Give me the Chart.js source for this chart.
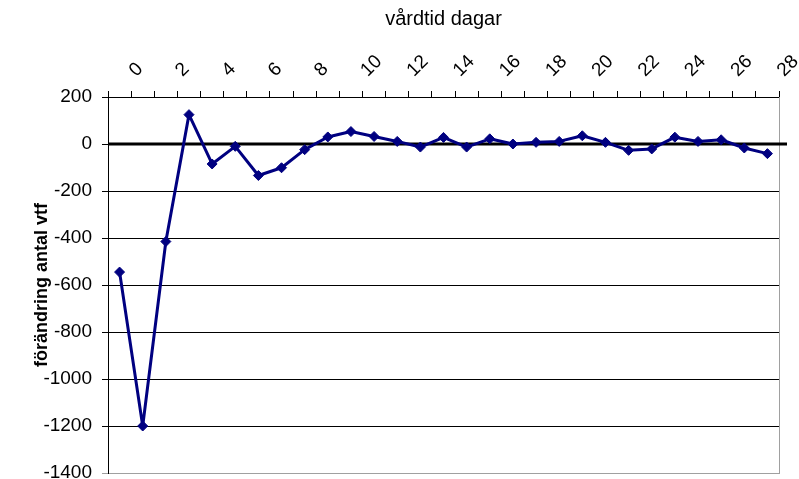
<!DOCTYPE html>
<html><head><meta charset="utf-8">
<script src="https://cdn.jsdelivr.net/npm/chart.js@4/dist/chart.umd.min.js"></script>
<style>html,body{margin:0;padding:0;background:#fff;} #wrap{width:799px;height:479px;}</style>
</head><body><div id="wrap"><canvas id="c" width="799" height="479"></canvas></div>
<script>
// data
const days = [-0.5, 0.5, 1.5, 2.5, 3.5, 4.5, 5.5, 6.5, 7.5, 8.5, 9.5, 10.5, 11.5, 12.5, 13.5, 14.5, 15.5, 16.5, 17.5, 18.5, 19.5, 20.5, 21.5, 22.5, 23.5, 24.5, 25.5, 26.5, 27.5];
const change = [-545, -1200, -415, 125, -85, -10, -134, -101, -24, 30, 53, 32, 11, -13, 28, -13, 22, 0, 7, 11, 35, 7, -27, -21, 29, 11, 18, -17, -41];
const xTickLabels = [0, 2, 4, 6, 8, 10, 12, 14, 16, 18, 20, 22, 24, 26, 28];
const yTicks = [200, 0, -200, -400, -600, -800, -1000, -1200, -1400];
const xTitle = 'vårdtid dagar';
const yTitle = 'förändring antal vtf';

const FONT = "'Liberation Sans', Arial, sans-serif";
Chart.defaults.font.family = FONT;
Chart.defaults.color = '#000';

const framePlugin = {
  id: 'frame',
  beforeDatasetsDraw(chart) {
    const {ctx, chartArea: a, scales} = chart;
    const y0 = scales.y.getPixelForValue(0);
    ctx.save();
    ctx.strokeStyle = '#a0a0a0';
    ctx.lineWidth = 1;
    ctx.beginPath();
    ctx.moveTo(Math.round(a.right) + 0.5, a.top);
    ctx.lineTo(Math.round(a.right) + 0.5, a.bottom + 1);
    ctx.stroke();
    ctx.strokeStyle = '#000';
    ctx.lineWidth = 3;
    ctx.beginPath();
    ctx.moveTo(a.left, Math.round(y0));
    ctx.lineTo(a.right + 8, Math.round(y0));
    ctx.stroke();
    ctx.restore();
  },
  afterDraw(chart) {
    // rotated x tick labels, positioned from the x scale
    const {ctx, scales} = chart;
    const sx = scales.x;
    ctx.save();
    ctx.font = '19px ' + FONT;
    ctx.fillStyle = '#000';
    ctx.textAlign = 'left';
    ctx.textBaseline = 'middle';
    xTickLabels.forEach(v => {
      const px = sx.getPixelForValue(v);
      ctx.save();
      ctx.translate(px + 1.5, sx.bottom - 23.5);
      ctx.rotate(-Math.PI / 4);
      ctx.fillText(String(v), 0, 0);
      ctx.restore();
    });
    ctx.restore();
  }
};

new Chart(document.getElementById('c'), {
  type: 'line',
  data: {
    datasets: [{
      data: days.map((d, i) => ({x: d, y: change[i]})),
      borderColor: '#000080',
      backgroundColor: '#000080',
      borderWidth: 3,
      borderJoinStyle: 'bevel',
      pointStyle: 'rectRot',
      pointRadius: 5,
      pointBorderWidth: 1,
      tension: 0
    }]
  },
  options: {
    responsive: false,
    animation: false,
    devicePixelRatio: 1,
    layout: {padding: {left: 0, right: 20, top: 0, bottom: 5}},
    plugins: {legend: {display: false}, tooltip: {enabled: false}},
    scales: {
      x: {
        type: 'linear',
        position: 'top',
        min: -1, max: 28,
        afterFit(s) { s.height = 97; s.paddingLeft = 0; s.paddingRight = 0; },
        title: {display: true, text: xTitle, font: {size: 20}, padding: {top: 7, bottom: 0}},
        ticks: {
          stepSize: 1, autoSkip: false, maxRotation: 0, minRotation: 0,
          font: {size: 19}, padding: 4,
          callback: () => ''
        },
        grid: {drawOnChartArea: false, drawTicks: true, tickLength: 6, color: '#000'},
        border: {color: '#000', width: 1}
      },
      y: {
        min: -1400, max: 200,
        afterFit(s) { s.width = 108; s.paddingTop = 0; s.paddingBottom = 0; },
        afterBuildTicks(s) { s.ticks = yTicks.map(v => ({value: v})); },
        title: {display: true, text: yTitle, font: {size: 18, weight: 'bold'}, padding: {top: 31, bottom: 0}},
        ticks: {font: {size: 19}, padding: 10, callback: v => String(v)},
        grid: {color: c => (c.tick && c.tick.value === -1400) ? '#a0a0a0' : '#000', tickLength: 6},
        border: {color: '#000', width: 1}
      }
    }
  },
  plugins: [framePlugin]
});
</script></body></html>
